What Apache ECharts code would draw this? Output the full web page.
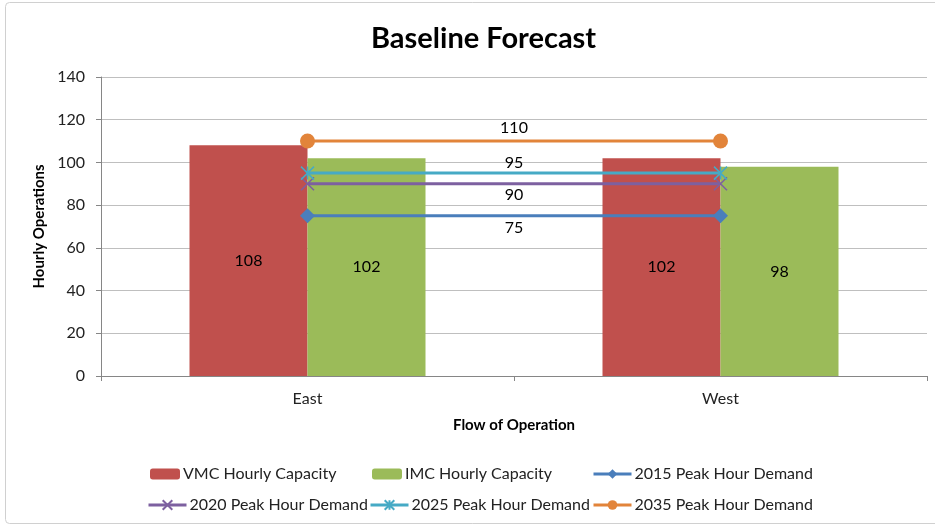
<!DOCTYPE html>
<html>
<head>
<meta charset="utf-8">
<script src="https://cdn.jsdelivr.net/npm/echarts@6/dist/echarts.min.js"></script>
<style>
  html, body { margin: 0; padding: 0; background: #fff; }
  #chart { width: 935px; height: 526px; }
</style>
</head>
<body>
<div id="chart"></div>
<script>
// Baseline capacity vs. peak-hour demand by flow direction
const categories = ['East', 'West'];
const vmcCapacity = [108, 102];
const imcCapacity = [102, 98];
const demand2015 = [75, 75];
const demand2020 = [90, 90];
const demand2025 = [95, 95];
const demand2035 = [110, 110];
const yTicks = { min: 0, max: 140, interval: 20 };

const FONT = 'Lato, "Open Sans", sans-serif';
const TEXT = '#000';

const X_PATH = 'path://M0,0L10,10M10,0L0,10';
const STAR_PATH = 'path://M0,0L10,10M10,0L0,10M5,0L5,10';

// Line series with its value label centred between the two points
function demandSeries(name, values, color, symbol, symbolSize, labelPos, labelDist, extra) {
  return Object.assign({
    name: name,
    type: 'line',
    data: values,
    symbol: symbol,
    symbolSize: symbolSize,
    showAllSymbol: true,
    lineStyle: { color: color, width: 3 },
    itemStyle: { color: color },
    z: 5,
    markLine: {
      silent: true,
      symbol: ['none', 'none'],
      lineStyle: { color: 'rgba(0,0,0,0)', width: 0, type: 'solid' },
      label: {
        show: true,
        position: labelPos,
        distance: labelDist,
        color: TEXT,
        fontFamily: FONT,
        fontSize: 16,
        formatter: function () { return String(values[0]); }
      },
      data: [[
        { coord: [categories[0], values[0]] },
        { coord: [categories[1], values[1]] }
      ]]
    }
  }, extra || {});
}

function legendAt(name, left, top, w, h) {
  return {
    data: [name],
    left: left,
    top: top,
    itemWidth: w,
    itemHeight: h,
    itemGap: 0,
    padding: 0,
    lineStyle: { width: 3 },
    textStyle: { fontFamily: FONT, fontSize: 16, color: '#222', padding: [0, 0, 0, -2] },
    selectedMode: false
  };
}

const chart = echarts.init(document.getElementById('chart'), null, { renderer: 'canvas' });

chart.setOption({
  animation: false,
  backgroundColor: '#fff',
  title: {
    text: 'Baseline Forecast',
    left: 366,
    top: 19,
    textStyle: { fontFamily: FONT, fontWeight: 'bold', fontSize: 29, color: TEXT }
  },
  graphic: [{
    type: 'rect',
    shape: { x: 5.5, y: 2.5, width: 940, height: 521, r: 4 },
    style: { fill: 'none', stroke: '#d0d0d0', lineWidth: 1 },
    silent: true,
    z: -10
  }],
  legend: [
    legendAt('VMC Hourly Capacity', 150, 466, 30, 11),
    legendAt('IMC Hourly Capacity', 372, 466, 30, 11),
    legendAt('2015 Peak Hour Demand', 592, 466, 38, 12),
    legendAt('2020 Peak Hour Demand', 147, 497, 38, 12),
    legendAt('2025 Peak Hour Demand', 369, 497, 38, 12),
    legendAt('2035 Peak Hour Demand', 592, 497, 38, 12)
  ],
  grid: { left: 101, right: 8, top: 77, bottom: 150 },
  xAxis: {
    type: 'category',
    data: categories,
    boundaryGap: true,
    name: 'Flow of Operation',
    nameLocation: 'middle',
    nameGap: 42,
    nameTextStyle: { fontFamily: FONT, fontWeight: 'bold', fontSize: 15, color: TEXT },
    axisLine: { lineStyle: { color: '#868686', width: 1 } },
    axisTick: { show: true, alignWithLabel: false, length: 5, lineStyle: { color: '#868686' } },
    axisLabel: { fontFamily: FONT, fontSize: 16, color: '#222', margin: 15 }
  },
  yAxis: {
    type: 'value',
    min: yTicks.min,
    max: yTicks.max,
    interval: yTicks.interval,
    name: 'Hourly Operations',
    nameLocation: 'middle',
    nameGap: 49,
    nameRotate: 90,
    nameTextStyle: { fontFamily: FONT, fontWeight: 'bold', fontSize: 15, color: TEXT },
    axisLine: { show: true, lineStyle: { color: '#868686', width: 1 } },
    axisTick: { show: true, length: 5, lineStyle: { color: '#868686' } },
    axisLabel: { fontFamily: FONT, fontSize: 16, color: '#222', margin: 16 },
    splitLine: { show: true, lineStyle: { color: '#bfbfbf', width: 1 } }
  },
  series: [
    {
      name: 'VMC Hourly Capacity',
      type: 'bar',
      data: vmcCapacity,
      barWidth: 118,
      barGap: '0%',
      itemStyle: { color: '#C0504D' },
      label: { show: true, position: 'inside', color: TEXT, fontFamily: FONT, fontSize: 16 }
    },
    {
      name: 'IMC Hourly Capacity',
      type: 'bar',
      data: imcCapacity,
      barWidth: 118,
      barGap: '0%',
      itemStyle: { color: '#9BBB59' },
      label: { show: true, position: 'inside', color: TEXT, fontFamily: FONT, fontSize: 16 }
    },
    demandSeries('2015 Peak Hour Demand', demand2015, '#4A7EBB', 'diamond', 15, 'insideMiddleBottom', 4),
    demandSeries('2020 Peak Hour Demand', demand2020, '#7D60A0', X_PATH, 13, 'insideMiddleBottom', 3, {
      itemStyle: { color: '#7D60A0', borderColor: '#7D60A0', borderWidth: 1.5 }
    }),
    demandSeries('2025 Peak Hour Demand', demand2025, '#46AAC5', STAR_PATH, 13, 'insideMiddleTop', 2, {
      itemStyle: { color: '#46AAC5', borderColor: '#46AAC5', borderWidth: 1.5 }
    }),
    demandSeries('2035 Peak Hour Demand', demand2035, '#E2843A', 'circle', 15, 'insideMiddleTop', 5)
  ]
});
</script>
</body>
</html>
